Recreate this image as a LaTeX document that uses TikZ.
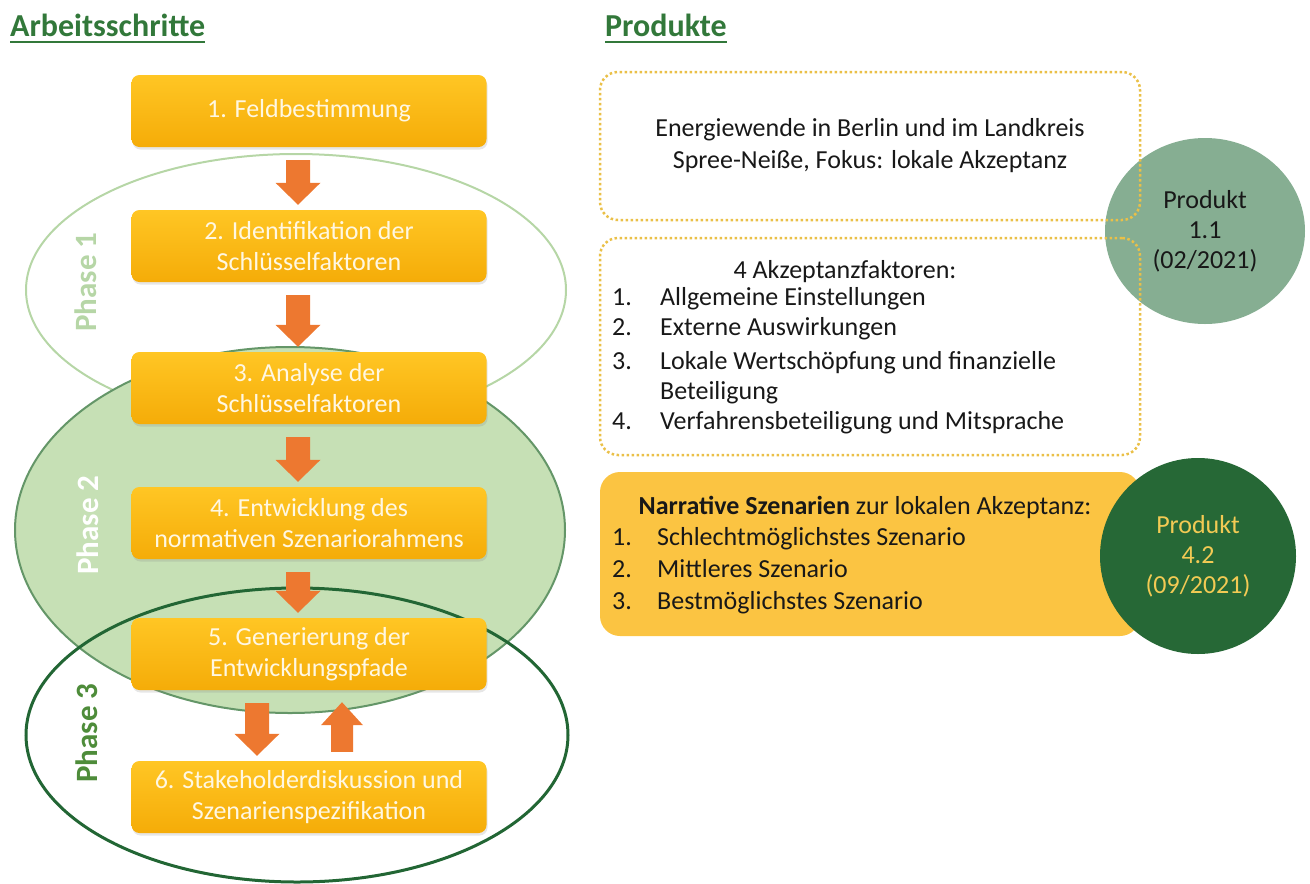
\documentclass[tikz,border=0pt]{standalone}
\usepackage{fontspec}
\setmainfont{Carlito}
\usepackage{tikz}
\usetikzlibrary{shapes.geometric,shadows}

\definecolor{titelgruen}{RGB}{50,120,58}
\definecolor{boxoben}{RGB}{255,198,36}
\definecolor{boxunten}{RGB}{245,172,8}
\definecolor{boxtext}{RGB}{255,247,226}
\definecolor{pfeilfarbe}{RGB}{237,120,48}
\definecolor{phaseeins}{RGB}{182,214,166}
\definecolor{phasezwei}{RGB}{198,224,181}
\definecolor{phasezweirand}{RGB}{100,150,104}
\definecolor{phasedrei}{RGB}{34,102,52}
\definecolor{phasedreitext}{RGB}{78,140,58}
\definecolor{punktfarbe}{RGB}{234,192,72}
\definecolor{gelbfeld}{RGB}{251,196,66}
\definecolor{kreishell}{RGB}{134,174,146}
\definecolor{kreisdunkel}{RGB}{38,104,54}
\definecolor{kreistext}{RGB}{242,202,84}
\definecolor{dunkeltext}{RGB}{24,24,24}

\newcommand{\gross}{\fontsize{26}{31}\selectfont}
\newcommand{\titel}{\fontsize{32}{38}\selectfont\bfseries}

% Blockpfeil nach unten: obere Box, untere Box, x-Versatz
\newcommand{\runter}[3]{%
  \fill[pfeilfarbe] ([xshift=#3-12pt,yshift=-13pt]#1.south) -- ([xshift=#3+12pt,yshift=-13pt]#1.south)
    -- ([xshift=#3+12pt,yshift=27pt]#2.north) -- ([xshift=#3+22.5pt,yshift=27pt]#2.north)
    -- ([xshift=#3,yshift=5pt]#2.north) -- ([xshift=#3-22.5pt,yshift=27pt]#2.north)
    -- ([xshift=#3-12pt,yshift=27pt]#2.north) -- cycle;}
% Blockpfeil nach oben: untere Box, obere Box, x-Versatz
\newcommand{\hoch}[3]{%
  \fill[pfeilfarbe] ([xshift=#3-11pt,yshift=9pt]#1.north) -- ([xshift=#3+11pt,yshift=9pt]#1.north)
    -- ([xshift=#3+11pt,yshift=-35pt]#2.south) -- ([xshift=#3+21pt,yshift=-35pt]#2.south)
    -- ([xshift=#3,yshift=-12pt]#2.south) -- ([xshift=#3-21pt,yshift=-35pt]#2.south)
    -- ([xshift=#3-11pt,yshift=-35pt]#2.south) -- cycle;}

\begin{document}
\begin{tikzpicture}[x=1pt,y=-1pt]
    \tikzstyle{schritt}=[rounded corners=8pt, top color=boxoben, bottom color=boxunten,
        drop shadow={opacity=0.2, shadow xshift=1pt, shadow yshift=-2.5pt},
        text=boxtext, font=\gross, align=center, minimum width=355pt, minimum height=72pt]
    \tikzstyle{phase}=[ellipse, inner sep=0pt]
    \tikzstyle{phasetext}=[rotate=90, font=\fontsize{31}{36}\selectfont\bfseries]
    \tikzstyle{punktbox}=[draw=punktfarbe, line width=2.5pt, dash pattern=on 2.5pt off 2.5pt,
        rounded corners=18pt, minimum width=540pt]
    \tikzstyle{produkt}=[ellipse, inner sep=0pt, align=center, font=\fontsize{26}{30}\selectfont]
    \useasboundingbox (0,0) rectangle (1310,884);

    % Ueberschriften
    \node[anchor=base west, inner sep=0pt, text=titelgruen, font=\titel] (arbeit) at (10,36) {Arbeitsschritte};
    \node[anchor=base west, inner sep=0pt, text=titelgruen, font=\titel] (produkte) at (605,36) {Produkte};
    \draw[titelgruen, line width=2.5pt] ([yshift=-6pt]arbeit.base west) -- ([yshift=-6pt]arbeit.base east);
    \draw[titelgruen, line width=2.5pt] ([yshift=-6pt]produkte.base west) -- ([yshift=-6pt]produkte.base east);

    % Phasen
    \node[phase, draw=phaseeins, line width=2pt, minimum width=540pt, minimum height=272pt] (ph1) at (296,290) {};
    \node[phase, fill=phasezwei, draw=phasezweirand, line width=2pt, minimum width=550pt, minimum height=366pt] (ph2) at (290,530) {};
    \node[phase, draw=phasedrei, line width=3pt, minimum width=542pt, minimum height=294pt] (ph3) at (297,735) {};
    \node[phasetext, text=phaseeins] (lab1) at (86,282) {Phase 1};
    \node[phasetext, text=white] (lab2) at (88,525) {Phase 2};
    \node[phasetext, text=phasedreitext] (lab3) at (87,733) {Phase 3};

    % Arbeitsschritte
    \node[schritt] (s1) at (309,111) {1. Feldbestimmung};
    \node[schritt] (s2) at (309,246) {2. Identifikation der\\Schlüsselfaktoren};
    \node[schritt] (s3) at (309,388) {3. Analyse der\\Schlüsselfaktoren};
    \node[schritt] (s4) at (309,523) {4. Entwicklung des\\normativen Szenariorahmens};
    \node[schritt] (s5) at (309,654) {5. Generierung der\\Entwicklungspfade};
    \node[schritt] (s6) at (309,797) {6. Stakeholderdiskussion und\\Szenarienspezifikation};

    \runter{s1}{s2}{-11pt}
    \runter{s2}{s3}{-11pt}
    \runter{s3}{s4}{-11pt}
    \runter{s4}{s5}{-11pt}
    \runter{s5}{s6}{-52pt}
    \hoch{s6}{s5}{33pt}

    % Produkte
    \node[produkt, fill=kreishell, text=dunkeltext, minimum width=200pt, minimum height=186pt] (k1) at (1205,231) {Produkt\\1.1\\(02/2021)};
    \node[punktbox, minimum height=148pt, align=center, font=\fontsize{26}{32}\selectfont, text=dunkeltext] (p1) at (870,146)
        {Energiewende in Berlin und im Landkreis\\Spree-Neiße, Fokus: lokale Akzeptanz};
    \node[punktbox, minimum height=217pt] (p2) at (870,346.5) {};
    \node[font=\gross, text=dunkeltext] (p2titel) at (845,272) {4 Akzeptanzfaktoren:};
    \node[anchor=base west, inner sep=0pt, font=\fontsize{26}{30}\selectfont, text=dunkeltext] (p2liste) at (612,305)
        {\begin{tabular}[t]{@{}p{48pt}@{}l@{}}
            1. & Allgemeine Einstellungen\\
            2. & Externe Auswirkungen\\[4pt]
            3. & Lokale Wertschöpfung und finanzielle\\
               & Beteiligung\\
            4. & Verfahrensbeteiligung und Mitsprache
        \end{tabular}};

    \node[fill=gelbfeld, rounded corners=20pt, minimum width=540pt, minimum height=164pt] (p3) at (870,554) {};
    \node[font=\gross, text=dunkeltext] (p3titel) at (865,507) {\textbf{Narrative Szenarien} zur lokalen Akzeptanz:};
    \node[anchor=base west, inner sep=0pt, font=\fontsize{26}{32}\selectfont, text=dunkeltext] (p3liste) at (612,545)
        {\begin{tabular}[t]{@{}p{45pt}@{}l@{}}
            1. & Schlechtmöglichstes Szenario\\
            2. & Mittleres Szenario\\
            3. & Bestmöglichstes Szenario
        \end{tabular}};
    \node[produkt, fill=kreisdunkel, text=kreistext, minimum width=196pt, minimum height=196pt] (k2) at (1198,556) {Produkt\\4.2\\(09/2021)};
\end{tikzpicture}
\end{document}
